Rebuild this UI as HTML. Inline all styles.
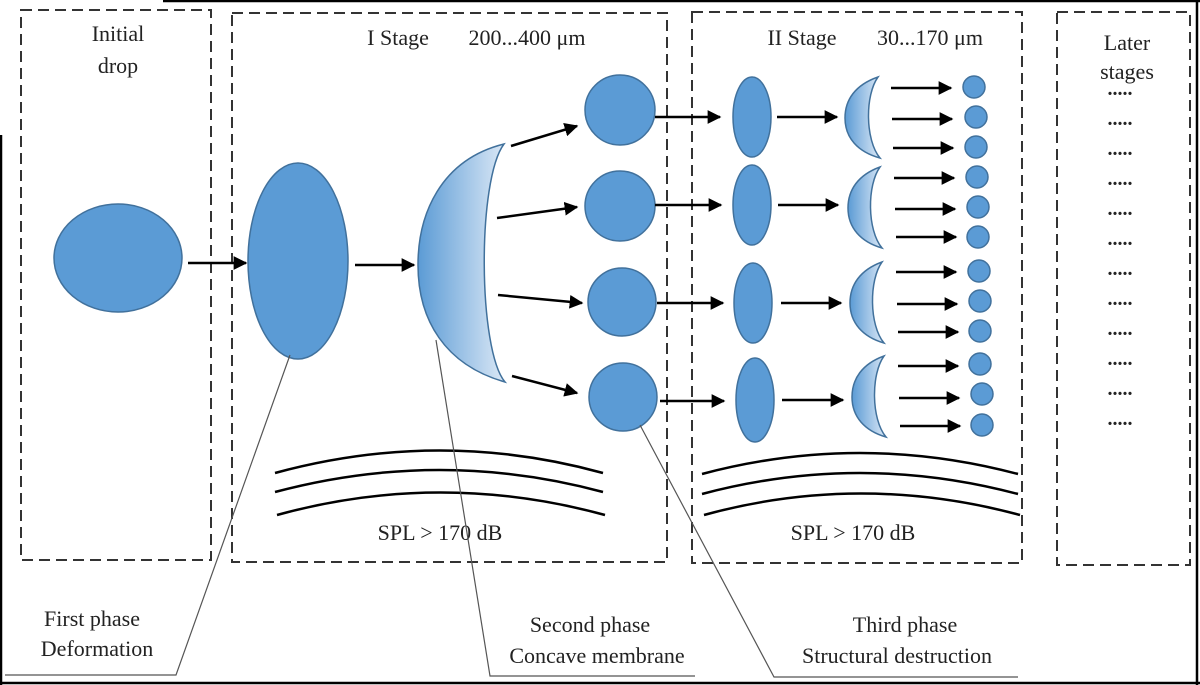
<!DOCTYPE html>
<html><head><meta charset="utf-8"><style>
body{margin:0;background:#fff;}
svg{display:block;}
text{font-family:"Liberation Serif",serif;fill:#222;}
</style></head><body>
<svg width="1200" height="685" viewBox="0 0 1200 685" xmlns="http://www.w3.org/2000/svg">
<defs>
<marker id="ah" viewBox="0 0 10 10" refX="9" refY="5" markerWidth="5.5" markerHeight="5.5" orient="auto"><path d="M0,0L10,5L0,10z" fill="#000"/></marker>
<linearGradient id="cg" x1="0" x2="1" y1="0" y2="0"><stop offset="0" stop-color="#5b9bd5"/><stop offset="1" stop-color="#dbe8f6"/></linearGradient>
</defs>
<g stroke="#000" stroke-width="2.5" fill="none">
<line x1="163" y1="1" x2="1200" y2="1"/>
<line x1="1" y1="135" x2="1" y2="685"/>
<line x1="0" y1="683" x2="1200" y2="683"/>
<line x1="1197" y1="0" x2="1197" y2="685"/>
</g>
<g stroke="#333" stroke-width="2" fill="none" stroke-dasharray="11,6">
<rect x="21" y="10" width="190" height="550"/>
<rect x="232" y="13" width="435" height="549"/>
<rect x="692" y="12" width="330" height="551"/>
<rect x="1057" y="12" width="133" height="553"/>
</g>
<g font-size="22" text-anchor="middle">
<text x="118" y="41">Initial</text><text x="118" y="73">drop</text>
<text x="398" y="45">I Stage</text><text x="527" y="45">200...400 μm</text>
<text x="802" y="45">II Stage</text><text x="930" y="45">30...170 μm</text>
<text x="1127" y="50">Later</text><text x="1127" y="79">stages</text>
<text x="440" y="540">SPL &gt; 170 dB</text>
<text x="853" y="540">SPL &gt; 170 dB</text>
<text x="92" y="626">First phase</text><text x="97" y="656">Deformation</text>
<text x="590" y="632">Second phase</text><text x="597" y="663">Concave membrane</text>
<text x="905" y="632">Third phase</text><text x="897" y="663">Structural destruction</text>
</g>
<g font-size="20" text-anchor="middle" font-weight="bold">
<text x="1120" y="95">.....</text><text x="1120" y="125">.....</text><text x="1120" y="155">.....</text><text x="1120" y="185">.....</text><text x="1120" y="215">.....</text><text x="1120" y="245">.....</text><text x="1120" y="275">.....</text><text x="1120" y="305">.....</text><text x="1120" y="335">.....</text><text x="1120" y="365">.....</text><text x="1120" y="395">.....</text><text x="1120" y="425">.....</text>
</g>
<g fill="#5b9bd5" stroke="#41719c" stroke-width="1.5">
<ellipse cx="118" cy="258" rx="64" ry="54"/>
<ellipse cx="298" cy="261" rx="50" ry="98"/>
<circle cx="620" cy="110" r="35"/><circle cx="620" cy="206" r="35"/>
<circle cx="622" cy="302" r="34"/><circle cx="623" cy="397" r="34"/>
<ellipse cx="752" cy="117" rx="19" ry="40"/><ellipse cx="752" cy="205" rx="19" ry="40"/>
<ellipse cx="753" cy="303" rx="19" ry="40"/><ellipse cx="755" cy="400" rx="19" ry="42"/>
<circle cx="974" cy="87" r="11"/><circle cx="976" cy="117" r="11"/><circle cx="976" cy="147" r="11"/>
<circle cx="977" cy="177" r="11"/><circle cx="978" cy="207" r="11"/><circle cx="978" cy="237" r="11"/>
<circle cx="979" cy="271" r="11"/><circle cx="980" cy="301" r="11"/><circle cx="980" cy="331" r="11"/>
<circle cx="980" cy="364" r="11"/><circle cx="982" cy="394" r="11"/><circle cx="982" cy="425" r="11"/>
</g>
<g fill="url(#cg)" stroke="#41719c" stroke-width="1.5">
<path d="M504,144 C440,160 418,215 418,265 C418,320 445,365 505,382 C478,350 477,180 504,144Z"/>
<path d="M878,77 C855,85 845,100 845,118 C845,138 858,152 880,158 C865,140 865,95 878,77Z"/>
<path d="M880,167 C858,175 848,190 848,208 C848,228 861,242 882,248 C867,230 867,185 880,167Z"/>
<path d="M882,262 C860,270 850,285 850,303 C850,323 863,337 884,343 C869,325 869,280 882,262Z"/>
<path d="M884,356 C862,364 852,379 852,397 C852,417 865,431 886,437 C871,419 871,374 884,356Z"/>
</g>
<g stroke="#000" stroke-width="2.5" marker-end="url(#ah)">
<line x1="188" y1="263" x2="246" y2="263"/>
<line x1="355" y1="265" x2="414" y2="265"/>
<line x1="511" y1="146" x2="577" y2="126"/>
<line x1="497" y1="218" x2="577" y2="207"/>
<line x1="498" y1="295" x2="582" y2="303"/>
<line x1="512" y1="376" x2="577" y2="393"/>
<line x1="655" y1="117" x2="720" y2="117"/>
<line x1="655" y1="205" x2="721" y2="205"/>
<line x1="657" y1="303" x2="723" y2="303"/>
<line x1="660" y1="401" x2="724" y2="401"/>
<line x1="777" y1="117" x2="837" y2="117"/>
<line x1="778" y1="205" x2="838" y2="205"/>
<line x1="781" y1="303" x2="841" y2="303"/>
<line x1="782" y1="400" x2="843" y2="400"/>
<line x1="891" y1="88" x2="951" y2="88"/><line x1="892" y1="119" x2="952" y2="119"/><line x1="893" y1="148" x2="953" y2="148"/>
<line x1="894" y1="178" x2="954" y2="178"/><line x1="895" y1="209" x2="955" y2="209"/><line x1="896" y1="237" x2="956" y2="237"/>
<line x1="896" y1="272" x2="956" y2="272"/><line x1="897" y1="304" x2="957" y2="304"/><line x1="898" y1="332" x2="958" y2="332"/>
<line x1="898" y1="366" x2="958" y2="366"/><line x1="899" y1="398" x2="959" y2="398"/><line x1="900" y1="426" x2="960" y2="426"/>
</g>
<g stroke="#000" stroke-width="2.5" fill="none">
<path d="M275,473 Q440,428 603,473"/><path d="M275,492 Q440,448 603,492"/><path d="M277,515 Q440,470 605,515"/>
<path d="M702,474 Q860,432 1018,474"/><path d="M702,494 Q860,452 1018,494"/><path d="M704,515 Q860,472 1020,515"/>
</g>
<g stroke="#555" stroke-width="1.2" fill="none">
<polyline points="290,355 176,675 5,675"/>
<polyline points="436,340 490,676 695,676"/>
<polyline points="640,425 774,677 1018,677"/>
</g>
</svg>
</body></html>
